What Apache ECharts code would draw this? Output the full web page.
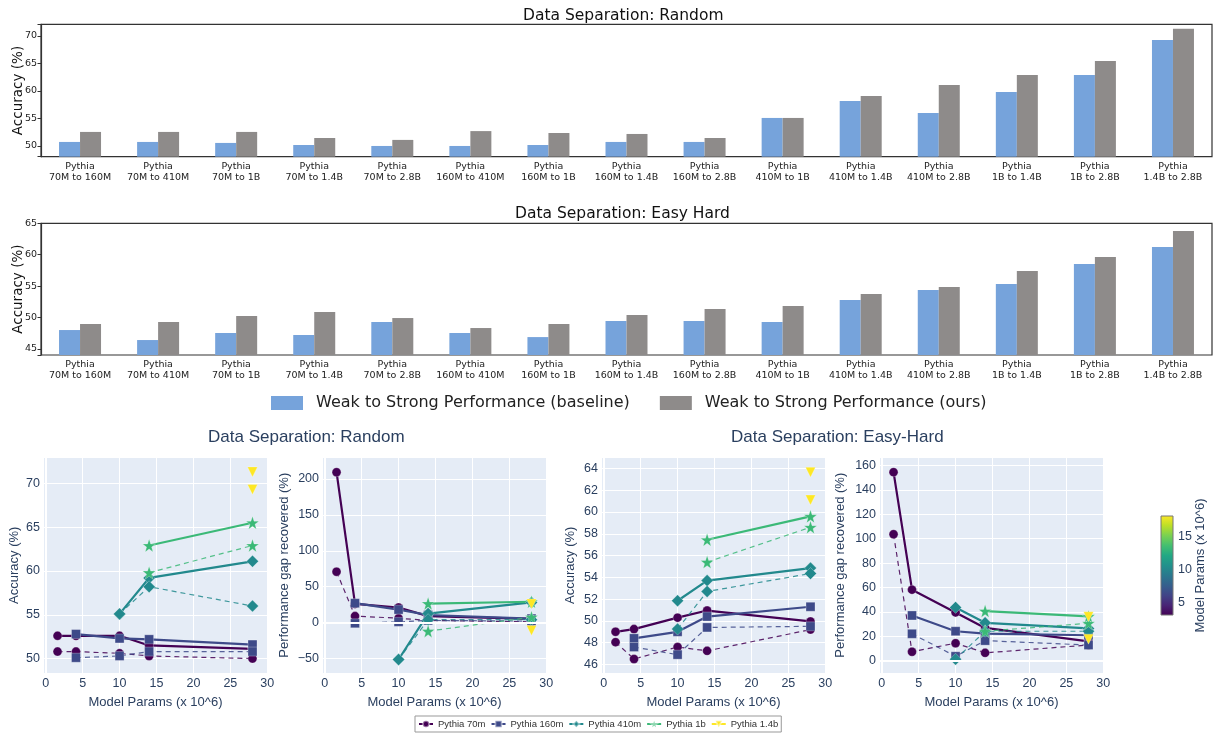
<!DOCTYPE html>
<html><head><meta charset="utf-8">
<script src="https://cdn.jsdelivr.net/npm/echarts@6/dist/echarts.min.js"></script>
<style>html,body{margin:0;padding:0;background:#fff}#chart{width:1213px;height:734px}</style>
</head><body><div id="chart"></div>
<script>
// ---------- data ----------
const pairLabels = ['70M to 160M','70M to 410M','70M to 1B','70M to 1.4B','70M to 2.8B','160M to 410M','160M to 1B','160M to 1.4B','160M to 2.8B','410M to 1B','410M to 1.4B','410M to 2.8B','1B to 1.4B','1B to 2.8B','1.4B to 2.8B'];
const randomBaseline = [50.73,50.73,50.55,50.18,50.0,50.0,50.18,50.73,50.73,55.09,58.18,56.0,59.82,62.9,69.27];
const randomOurs     = [52.55,52.55,52.55,51.45,51.1,52.7,52.36,52.18,51.45,55.09,59.09,61.09,62.9,65.45,71.27];
const easyBaseline   = [48.02,46.43,47.55,47.23,49.3,47.55,46.9,49.46,49.46,49.3,52.8,54.39,55.34,58.53,61.23];
const easyOurs       = [48.98,49.3,50.25,50.89,49.93,48.34,48.98,50.41,51.37,51.84,53.75,54.87,57.41,59.64,63.78];
const barNames = ['Weak to Strong Performance (baseline)','Weak to Strong Performance (ours)'];

const modelNames = ['Pythia 70m','Pythia 160m','Pythia 410m','Pythia 1b','Pythia 1.4b'];
const strongParams = [1.6, 4.1, 10, 14, 28];

// Random: accuracy
const randAcc70mOurs = [52.6,52.6,52.6,51.5,51.1];
const randAcc70mBase = [50.8,50.8,50.6,50.3,50.0];
const randAcc160mOurs = [52.8,52.3,52.2,51.6];
const randAcc160mBase = [50.1,50.3,50.8,50.8];
const randAcc410mOurs = [55.1,59.2,61.1];
const randAcc410mBase = [55.1,58.2,56.0];
const randAcc1bOurs = [62.9,65.5];
const randAcc1bBase = [59.8,62.9];
const randAcc14bOurs = [71.3];
const randAcc14bBase = [69.3];
// Random: performance gap recovered
const randPgr70mOurs = [209.5,26,21,9,5];
const randPgr70mBase = [70.8,9,6,3,1];
const randPgr160mOurs = [27,18,10.5,5.5];
const randPgr160mBase = [-1,1,3,2];
const randPgr410mOurs = [-51.5,12.5,28];
const randPgr410mBase = [-51.5,4,4];
const randPgr1bOurs = [26.5,29];
const randPgr1bBase = [-12,7.5];
const randPgr14bOurs = [26];
const randPgr14bBase = [-11];
// Easy-Hard: accuracy
const ehAcc70mOurs = [49.0,49.25,50.3,50.95,49.95];
const ehAcc70mBase = [48.05,46.5,47.6,47.25,49.2];
const ehAcc160mOurs = [48.4,49.0,50.4,51.3];
const ehAcc160mBase = [47.6,46.9,49.4,49.5];
const ehAcc410mOurs = [51.85,53.7,54.85];
const ehAcc410mBase = [49.25,52.7,54.35];
const ehAcc1bOurs = [57.45,59.6];
const ehAcc1bBase = [55.4,58.6];
const ehAcc14bOurs = [63.65];
const ehAcc14bBase = [61.1];
// Easy-Hard: performance gap recovered
const ehPgr70mOurs = [154.5,58.3,39.7,27,16];
const ehPgr70mBase = [103.7,7.5,14.5,6.6,13];
const ehPgr160mOurs = [37.2,24.3,22.4,21];
const ehPgr160mBase = [22.2,3.8,16.6,13];
const ehPgr410mOurs = [43.8,31.2,26.6];
const ehPgr410mBase = [1.4,24.3,24.3];
const ehPgr1bOurs = [40.8,36.4];
const ehPgr1bBase = [24.3,30.8];
const ehPgr14bOurs = [36.1];
const ehPgr14bBase = [17.8];

const colorbarRange = [3.1, 18.1];

// ---------- style ----------
const STAR = 'path://M50,0 L61.8,35.1 L98.9,35.1 L69,57.3 L79.4,92.7 L50,71.6 L20.6,92.7 L31,57.3 L1.1,35.1 L38.2,35.1 Z';
const TRI = 'path://M0,0 L10,0 L5,8.2 Z';
const symbols = ['circle','rect','diamond',STAR,TRI];
const symSizes = [9,9,12,13,10];
const modelColors = ['#440154','#3e4a89','#22898d','#3bb977','#fde725'];
const blue = '#76a3db', grey = '#8e8b8a';
const plotlyFont = 'Liberation Sans, Arial, sans-serif';
const mplFont = 'DejaVu Sans, sans-serif';
const pc = '#2a3f5f';
const viridis = ['#440154','#482475','#414487','#355f8d','#2a788e','#21918c','#22a884','#44bf70','#7ad151','#bddf26','#fde725'];

function fmtStep(step){
  return v => {
    const r = v/step;
    if (Math.abs(r - Math.round(r)) > 1e-6) return '';
    const n = Math.round(v);
    return n < 0 ? '\u2212' + Math.abs(n) : String(n);
  };
}
function pts(ys){ const xs = strongParams.slice(strongParams.length - ys.length); return ys.map((y,i)=>[xs[i], y]); }

const panels = [
  {ours:[randAcc70mOurs,randAcc160mOurs,randAcc410mOurs,randAcc1bOurs,randAcc14bOurs], base:[randAcc70mBase,randAcc160mBase,randAcc410mBase,randAcc1bBase,randAcc14bBase], y:[48.3,73.0], step:5, split:5, name:'Accuracy (%)', gap:22, left:43, zeroY:false},
  {ours:[randPgr70mOurs,randPgr160mOurs,randPgr410mOurs,randPgr1bOurs,randPgr14bOurs], base:[randPgr70mBase,randPgr160mBase,randPgr410mBase,randPgr1bBase,randPgr14bBase], y:[-71,230.7], step:50, split:6, name:'Performance gap recovered (%)', gap:31, left:322, zeroY:true},
  {ours:[ehAcc70mOurs,ehAcc160mOurs,ehAcc410mOurs,ehAcc1bOurs,ehAcc14bOurs], base:[ehAcc70mBase,ehAcc160mBase,ehAcc410mBase,ehAcc1bBase,ehAcc14bBase], y:[45.17,65.05], step:2, split:10, name:'Accuracy (%)', gap:24, left:601, zeroY:false},
  {ours:[ehPgr70mOurs,ehPgr160mOurs,ehPgr410mOurs,ehPgr1bOurs,ehPgr14bOurs], base:[ehPgr70mBase,ehPgr160mBase,ehPgr410mBase,ehPgr1bBase,ehPgr14bBase], y:[-10.3,166.9], step:20, split:9, name:'Performance gap recovered (%)', gap:32, left:879, zeroY:true}
];

const grids = [
  {left:41, top:24.3, width:1171, height:132.4, show:true, backgroundColor:'#fff', borderColor:'#333', borderWidth:1.2, outerBoundsMode:'none', containLabel:false},
  {left:41, top:223.3, width:1171, height:131.7, show:true, backgroundColor:'#fff', borderColor:'#333', borderWidth:1.2, outerBoundsMode:'none', containLabel:false}
];
const xAxes = [], yAxes = [], series = [];

[0,1].forEach(g => {
  xAxes.push({type:'category', gridIndex:g, data:pairLabels, axisTick:{show:false}, axisLine:{show:false},
    axisLabel:{formatter: v => 'Pythia\n' + v, fontSize:9.5, lineHeight:11, color:'#222', fontFamily:mplFont, margin:4, interval:0}});
  const yr = g === 0 ? [48.05,72.1] : [44.05,65];
  yAxes.push({type:'value', gridIndex:g, min:yr[0], max:yr[1], splitNumber: g===0?5:4, splitLine:{show:false},
    axisLine:{show:true, lineStyle:{color:'#333', width:1.2}}, axisTick:{show:true, length:3.5, lineStyle:{color:'#333'}},
    axisLabel:{formatter: fmtStep(5), fontSize:9.5, color:'#222', fontFamily:mplFont, margin:4, showMinLabel:true, showMaxLabel:true},
    name:'Accuracy (%)', nameLocation:'middle', nameGap:16, nameMoveOverlap:false, nameTextStyle:{fontSize:13.5, color:'#111', fontFamily:mplFont}});
});
series.push({type:'bar', name:barNames[0], xAxisIndex:0, yAxisIndex:0, data:randomBaseline, barWidth:21, barGap:'0%', itemStyle:{color:blue}});
series.push({type:'bar', name:barNames[1], xAxisIndex:0, yAxisIndex:0, data:randomOurs, barWidth:21, barGap:'0%', itemStyle:{color:grey}});
series.push({type:'bar', name:barNames[0], xAxisIndex:1, yAxisIndex:1, data:easyBaseline, barWidth:21, barGap:'0%', itemStyle:{color:blue}});
series.push({type:'bar', name:barNames[1], xAxisIndex:1, yAxisIndex:1, data:easyOurs, barWidth:21, barGap:'0%', itemStyle:{color:grey}});

panels.forEach((p, k) => {
  const gi = 2 + k;
  grids.push({left:p.left, top:457, width:225, height:216.5, show:true, backgroundColor:'#E5ECF6', borderWidth:0, outerBoundsMode:'none', containLabel:false});
  xAxes.push({type:'value', gridIndex:gi, min:-0.37, max:30.1, splitNumber:6,
    splitLine:{show:true, lineStyle:{color:'#fff', width:1}}, axisLine:{show:false}, axisTick:{show:false},
    axisLabel:{formatter: fmtStep(5), fontSize:12.5, color:pc, fontFamily:plotlyFont, margin:4, showMinLabel:true, showMaxLabel:true},
    name:'Model Params (x 10^6)', nameLocation:'middle', nameGap:22, nameMoveOverlap:false, nameTextStyle:{fontSize:13, color:pc, fontFamily:plotlyFont}});
  yAxes.push({type:'value', gridIndex:gi, min:p.y[0], max:p.y[1], splitNumber:p.split,
    splitLine:{show:true, lineStyle:{color:'#fff', width:1}}, axisLine:{show:false}, axisTick:{show:false},
    axisLabel:{formatter: fmtStep(p.step), fontSize:12.5, color:pc, fontFamily:plotlyFont, margin:3, showMinLabel:true, showMaxLabel:true},
    name:p.name, nameLocation:'middle', nameGap:p.gap, nameMoveOverlap:false, nameTextStyle:{fontSize:13, color:pc, fontFamily:plotlyFont}});
  const ml = [{xAxis:0}];
  if (p.zeroY) ml.push({yAxis:0});
  series.push({type:'line', xAxisIndex:gi, yAxisIndex:gi, data:[], silent:true, z:1,
    markLine:{silent:true, symbol:'none', label:{show:false}, lineStyle:{color:'#fff', width:2, type:'solid'}, data:ml}});
  modelNames.forEach((nm, i) => {
    [['ours', false], ['base', true]].forEach(([key, dashed]) => {
      series.push({type:'line', name:nm, xAxisIndex:gi, yAxisIndex:gi, data:pts(p[key][i]),
        symbol:symbols[i], symbolSize:symSizes[i], showSymbol:true,
        itemStyle:{color:modelColors[i], borderColor:'rgba(255,255,255,0.45)', borderWidth:0.6},
        lineStyle: dashed ? {width:1.2, type:[5,4], color:modelColors[i], opacity:0.85} : {width:2.2, color:modelColors[i]},
        emphasis:{disabled:true}});
    });
  });
});

// colorbar
grids.push({left:1161, top:516, width:12, height:99, show:false, outerBoundsMode:'none', containLabel:false});
xAxes.push({type:'value', gridIndex:6, min:0, max:1, show:false});
yAxes.push({type:'value', gridIndex:6, position:'right', min:colorbarRange[0], max:colorbarRange[1], splitNumber:3,
  splitLine:{show:false}, axisLine:{show:false}, axisTick:{show:false},
  axisLabel:{formatter: fmtStep(5), fontSize:12.5, color:pc, fontFamily:plotlyFont, margin:5, showMinLabel:true, showMaxLabel:true},
  name:'Model Params (x 10^6)', nameLocation:'middle', nameRotate:90, nameGap:21, nameMoveOverlap:false, nameTextStyle:{fontSize:13, color:pc, fontFamily:plotlyFont}});
series.push({type:'custom', xAxisIndex:6, yAxisIndex:6, silent:true, data:[[0, colorbarRange[0], colorbarRange[1]]],
  renderItem:(params, api) => {
    const a = api.coord([0, api.value(1)]);
    const b = api.coord([1, api.value(2)]);
    const stops = viridis.map((c, i) => ({offset: i/(viridis.length-1), color: c}));
    return {type:'rect', shape:{x:a[0], y:b[1], width:b[0]-a[0], height:a[1]-b[1]},
      style:{fill:new echarts.graphic.LinearGradient(0,1,0,0,stops), stroke:'#777', lineWidth:1}};
  }});

const option = {
  animation:false,
  backgroundColor:'#fff',
  title:[
    {text:'Data Separation: Random', left:523, top:8, padding:0, textStyle:{fontSize:15.5, fontWeight:'normal', color:'#111', fontFamily:mplFont}},
    {text:'Data Separation: Easy Hard', left:515, top:206, padding:0, textStyle:{fontSize:15.5, fontWeight:'normal', color:'#111', fontFamily:mplFont}},
    {text:'Data Separation: Random', left:208, top:429, padding:0, textStyle:{fontSize:17, fontWeight:'normal', color:pc, fontFamily:plotlyFont}},
    {text:'Data Separation: Easy-Hard', left:731, top:429, padding:0, textStyle:{fontSize:17, fontWeight:'normal', color:pc, fontFamily:plotlyFont}}
  ],
  legend:[
    {data:barNames, left:266, top:390, icon:'rect', itemWidth:32, itemHeight:14, itemGap:30,
      textStyle:{fontSize:16, color:'#222', fontFamily:mplFont, padding:[0,0,0,8]}, selectedMode:false},
    {data:modelNames, left:415, top:716, itemWidth:14, itemHeight:8, itemGap:5, padding:[3,3],
      borderColor:'#999', borderWidth:1, textStyle:{fontSize:9.5, color:'#333', fontFamily:plotlyFont}, selectedMode:false}
  ],
  grid:grids, xAxis:xAxes, yAxis:yAxes, series:series
};
const chart = echarts.init(document.getElementById('chart'), null, {renderer:'canvas'});
chart.setOption(option);
</script></body></html>
